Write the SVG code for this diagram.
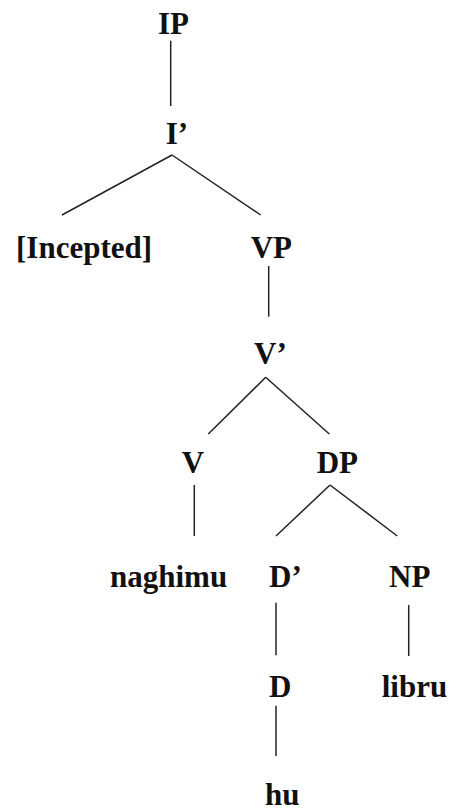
<svg xmlns="http://www.w3.org/2000/svg" width="450" height="808" viewBox="0 0 450 808">
  <style>
    .lbl { font-family: "Liberation Serif", "Times New Roman", serif; font-weight: bold; font-size: 31px; fill: #111; }
    .edge { stroke: #222; stroke-width: 1.5; fill: none; }
  </style>
  <rect width="450" height="808" fill="#fff"/>

  <!-- tree branches -->
  <g id="connectors">
    <line class="edge" x1="170.7" y1="40.7" x2="170.7" y2="106"/>
    <line class="edge" x1="172" y1="155" x2="62" y2="215"/>
    <line class="edge" x1="172" y1="155" x2="260.7" y2="215"/>
    <line class="edge" x1="268.7" y1="266" x2="268.7" y2="316.7"/>
    <line class="edge" x1="265.7" y1="377.3" x2="208.3" y2="434"/>
    <line class="edge" x1="265.7" y1="377.3" x2="329.3" y2="434"/>
    <line class="edge" x1="194.3" y1="485" x2="194.3" y2="536"/>
    <line class="edge" x1="330" y1="485" x2="276" y2="536"/>
    <line class="edge" x1="330" y1="485" x2="397.3" y2="536"/>
    <line class="edge" x1="276" y1="602.7" x2="276" y2="655.3"/>
    <line class="edge" x1="408.7" y1="605" x2="408.7" y2="656"/>
    <line class="edge" x1="276" y1="705.7" x2="276" y2="756"/>
  </g>

  <!-- node labels -->
  <g id="IP"><text class="lbl" x="158" y="33.7">IP</text></g>
  <g id="Ibar"><text class="lbl" x="165.7" y="144">I’</text></g>
  <g id="Incepted"><text class="lbl" x="16" y="258.3">[Incepted]</text></g>
  <g id="VP"><text class="lbl" x="250.7" y="258.3">VP</text></g>
  <g id="Vbar"><text class="lbl" x="254" y="364">V’</text></g>
  <g id="V"><text class="lbl" x="181.7" y="473.3">V</text></g>
  <g id="DP"><text class="lbl" x="316.7" y="473.3">DP</text></g>
  <g id="naghimu"><text class="lbl" x="110" y="586.7">naghimu</text></g>
  <g id="Dbar"><text class="lbl" x="269" y="586.7">D’</text></g>
  <g id="NP"><text class="lbl" x="389" y="586.7">NP</text></g>
  <g id="D"><text class="lbl" x="269" y="696.7">D</text></g>
  <g id="libru"><text class="lbl" x="381.7" y="696.7">libru</text></g>
  <g id="hu"><text class="lbl" x="265" y="805">hu</text></g>
</svg>
